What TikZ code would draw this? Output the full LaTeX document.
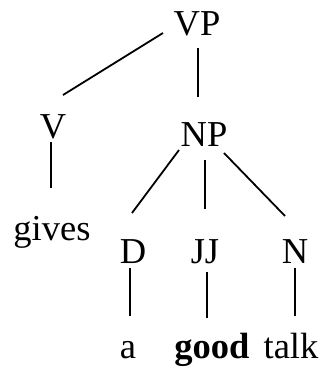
\documentclass[tikz,border=0pt]{standalone}
\usepackage{fontspec}
\setmainfont{Liberation Serif}
\usepackage{tikz}

\begin{document}
\begin{tikzpicture}[x=1pt,y=-1pt,
    lbl/.style={inner sep=0pt,anchor=base,font=\fontsize{36.5}{40}\selectfont},
    edge/.style={line width=1.8pt}]
    \useasboundingbox (0,0) rectangle (323,370);
    % tree labels
    \node[lbl] (VP) at (197,35) {VP};
    \node[lbl] (V) at (53,138) {V};
    \node[lbl] (NP) at (204,146) {NP};
    \node[lbl] (gives) at (52,240) {gives};
    \node[lbl] (D) at (133,263) {D};
    \node[lbl] (JJ) at (205,263) {JJ};
    \node[lbl] (N) at (295,263) {N};
    \node[lbl] (a) at (128,358) {a};
    \node[lbl] (good) at (212,358) {\textbf{good}};
    \node[lbl] (talk) at (291,358) {talk};
    % branches
    \draw[edge] ([shift={(-34pt,2pt)}]VP.base) -- ([shift={(10pt,43pt)}]V.base);
    \draw[edge] ([shift={(1pt,-13pt)}]VP.base) -- ([shift={(-6pt,49pt)}]NP.base);
    \draw[edge] ([shift={(-2pt,-4pt)}]V.base) -- ([shift={(-1pt,52pt)}]gives.base);
    \draw[edge] ([shift={(-25pt,-4pt)}]NP.base) -- ([shift={(-1pt,50pt)}]D.base);
    \draw[edge] ([shift={(1pt,-14pt)}]NP.base) -- ([shift={(0pt,54pt)}]JJ.base);
    \draw[edge] ([shift={(20pt,-7pt)}]NP.base) -- ([shift={(-10pt,47pt)}]N.base);
    \draw[edge] ([shift={(-3pt,-5pt)}]D.base) -- ([shift={(2pt,42pt)}]a.base);
    \draw[edge] ([shift={(2pt,-9pt)}]JJ.base) -- ([shift={(-5pt,40pt)}]good.base);
    \draw[edge] ([shift={(0pt,-5pt)}]N.base) -- ([shift={(4pt,42pt)}]talk.base);
\end{tikzpicture}
\end{document}
